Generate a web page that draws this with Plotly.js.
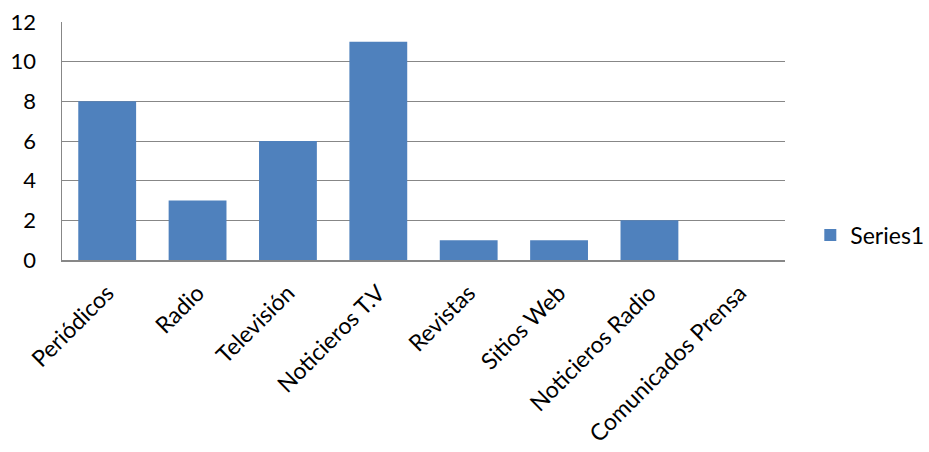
<!DOCTYPE html>
<html>
<head>
<meta charset="utf-8">
<script src="https://cdn.plot.ly/plotly-3.0.1.min.js"></script>
<style>html,body{margin:0;padding:0;background:#fff;}#chart{width:929px;height:452px;}</style>
</head>
<body>
<div id="chart"></div>
<script>
const categories = ["Periódicos", "Radio", "Televisión", "Noticieros T.V", "Revistas", "Sitios Web", "Noticieros Radio", "Comunicados Prensa"];
const series1 = [8, 3, 6, 11, 1, 1, 2, 0];
const seriesName = "Series1";
const yTicks = [0, 2, 4, 6, 8, 10, 12];

const font = "Lato, 'Open Sans', sans-serif";

Plotly.newPlot("chart", [{
  type: "bar",
  x: categories,
  y: series1,
  name: seriesName,
  marker: {color: "#4F81BD"},
  showlegend: true
}], {
  width: 929, height: 452,
  margin: {l: 62, r: 144, t: 22, b: 192, autoexpand: false},
  paper_bgcolor: "#fff", plot_bgcolor: "#fff",
  bargap: 0.36,
  font: {family: font, size: 22, color: "#000"},
  xaxis: {
    type: "category",
    tickangle: -45,
    showgrid: false,
    showline: true, linecolor: "#878787", linewidth: 1.5,
    ticks: "", ticklabelstandoff: 9, automargin: false,
    tickfont: {size: 23}
  },
  yaxis: {
    range: [0, 12], tickvals: yTicks,
    showgrid: true, gridcolor: "#878787", gridwidth: 1,
    showline: true, linecolor: "#878787", linewidth: 1.5,
    zeroline: false, ticks: "", ticklabelstandoff: 20, automargin: false,
    tickfont: {size: 22}
  },
  legend: {x: 1.035, xanchor: "left", y: 0.105, yanchor: "middle", itemwidth: 30, font: {size: 23}},
  showlegend: true
}, {displayModeBar: false, staticPlot: true});
</script>
</body>
</html>
